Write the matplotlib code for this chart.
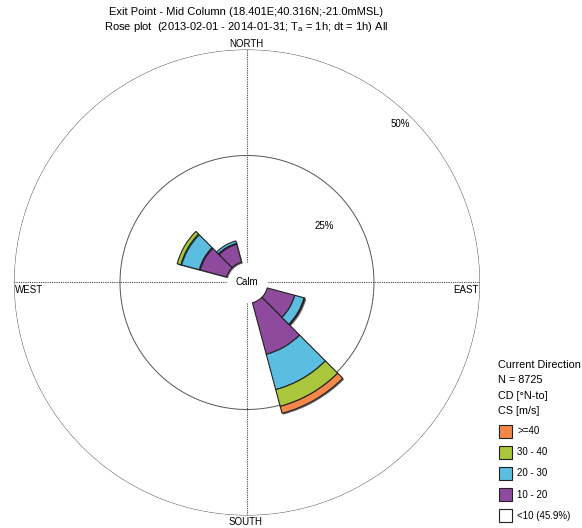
import numpy as np
import matplotlib
matplotlib.use('Agg')
import matplotlib.pyplot as plt
from matplotlib.patches import Rectangle
import matplotlib.patheffects as pe

# sector centres (deg, N-to) and stacked speed-class percentages
directions = [0, 30, 60, 90, 120, 150, 180, 210, 240, 270, 300, 330]
cs_10_20 = [0, 0, 0, 0, 6.7, 12.6, 0, 0, 0, 0, 6.7, 4.6]
cs_20_30 = [0, 0, 0, 0, 2.3, 8.6, 0, 0, 0, 0, 4.5, 0.6]
cs_30_40 = [0, 0, 0, 0, 0.2, 4.1, 0, 0, 0, 0, 0.9, 0]
cs_40 = [0, 0, 0, 0, 0, 1.7, 0, 0, 0, 0, 0, 0]
class_labels = ['>=40', '30 - 40', '20 - 30', '10 - 20', '<10 (45.9%)']
class_colors = ['#f6874a', '#a9c63c', '#5bbde0', '#8e4a9d', 'white']
rings = [25, 50]
calm = 4.95  # radius of calm circle in % units

plt.rcParams['font.family'] = ['Liberation Sans', 'DejaVu Sans']

fig = plt.figure(figsize=(5.82, 5.28), dpi=100)
ax = fig.add_axes([0.02405, 0.02367, 0.8007, 0.8826], projection='polar')
ax.set_theta_zero_location('N')
ax.set_theta_direction(-1)
rmax = calm + rings[-1]
ax.set_ylim(0, rmax)
ax.grid(False)
ax.set_xticks([]); ax.set_yticks([])
ax.spines['polar'].set_visible(False)

th = np.linspace(0, 2 * np.pi, 400)
for r in rings:
    ax.plot(th, np.full_like(th, calm + r), color='#555555', lw=0.7, zorder=1)
for a in [0, 90, 180, 270]:
    ax.plot([np.radians(a)] * 2, [calm, rmax], color='#444444', lw=0.8,
            ls=(0, (1, 1)), zorder=1)

theta = np.radians(directions)
width = np.radians(30)
bottom = np.full(len(directions), calm)
shadow = [pe.SimplePatchShadow(offset=(0.9, -0.9), shadow_rgbFace='black', alpha=0.6), pe.Normal()]
for vals, col in [(cs_10_20, class_colors[3]), (cs_20_30, class_colors[2]),
                  (cs_30_40, class_colors[1]), (cs_40, class_colors[0])]:
    vals = np.array(vals, dtype=float)
    m = vals > 0
    bars = ax.bar(theta[m], vals[m], width=width, bottom=bottom[m], color=col,
                  edgecolor='#222222', lw=0.8, zorder=3)
    for b in bars:
        b.set_path_effects(shadow)
    bottom = bottom + vals

ax.text(0, 0, 'Calm', ha='center', va='center', fontsize=7, zorder=5)
ax.text(np.radians(54), calm + 17.7, '25%', ha='center', va='center', fontsize=7)
ax.text(np.radians(44), calm + 47, '50%', ha='center', va='center', fontsize=7)

fs = 7
fig.text(246 / 582, 1 - 12 / 528, 'Exit Point - Mid Column (18.401E;40.316N;-21.0mMSL)',
         ha='center', va='center', fontsize=8)
fig.text(246 / 582, 1 - 27 / 528, 'Rose plot  (2013-02-01 - 2014-01-31; T$_\\mathregular{a}$ = 1h; dt = 1h) All',
         ha='center', va='center', fontsize=8)
fig.text(246 / 582, 1 - 44 / 528, 'NORTH', ha='center', va='center', fontsize=fs)
fig.text(246 / 582, 1 - 522 / 528, 'SOUTH', ha='center', va='center', fontsize=fs)
fig.text(15 / 582, 1 - 290 / 528, 'WEST', ha='left', va='center', fontsize=fs)
fig.text(479 / 582, 1 - 290 / 528, 'EAST', ha='right', va='center', fontsize=fs)

# legend
head = ['Current Direction', 'N = 8725', 'CD [\u00b0N-to]', 'CS [m/s]']
for i, t in enumerate(head):
    fig.text(498 / 582, 1 - (365 + i * 15.3) / 528, t, ha='left', va='center', fontsize=7.8)
for i, (lab, col) in enumerate(zip(class_labels, class_colors)):
    yc = 431 + i * 21.2
    fig.add_artist(Rectangle((499 / 582, 1 - (yc + 6.5) / 528), 13 / 582, 13 / 528,
                             transform=fig.transFigure, facecolor=col,
                             edgecolor='#222222', lw=0.8))
    fig.text(517 / 582, 1 - yc / 528, lab, ha='left', va='center', fontsize=7)

fig.savefig('out.png', dpi=100)
